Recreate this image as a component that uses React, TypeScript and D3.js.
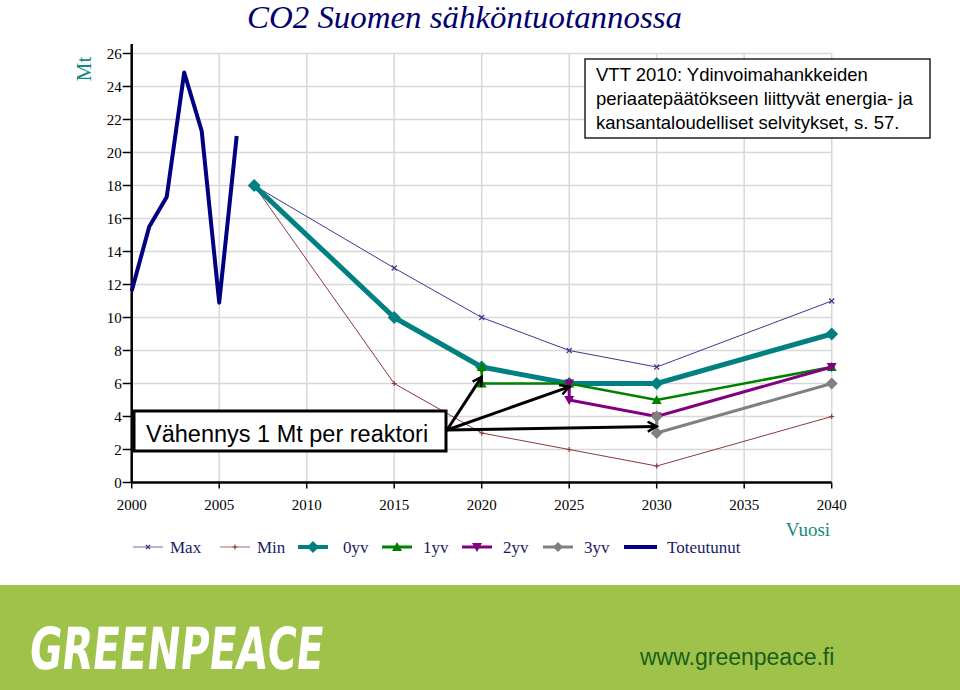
import React from "react";
import * as d3 from "d3";

const W = 960;
const H = 690;

const histYears = [2000, 2001, 2002, 2003, 2004, 2005, 2006];
const histValues = [11.6, 15.5, 17.3, 24.85, 21.3, 10.9, 21.0];

const maxYears = [2007, 2015, 2020, 2025, 2030, 2040];
const maxValues = [18, 13, 10, 8, 7, 11];
const minYears = [2007, 2015, 2020, 2025, 2030, 2040];
const minValues = [18, 6, 3, 2, 1, 4];
const yv0Years = [2007, 2015, 2020, 2025, 2030, 2040];
const yv0Values = [18, 10, 7, 6, 6, 9];
const yv1Years = [2020, 2020, 2025, 2030, 2040];
const yv1Values = [7, 6, 6, 5, 7];
const yv2Years = [2025, 2025, 2030, 2040];
const yv2Values = [6, 5, 4, 7];
const yv3Years = [2030, 2030, 2040];
const yv3Values = [4, 3, 6];

const xTicks = [2000, 2005, 2010, 2015, 2020, 2025, 2030, 2035, 2040];
const yTicks = [0, 2, 4, 6, 8, 10, 12, 14, 16, 18, 20, 22, 24, 26];

const arrowTargets = [
  [2020, 6.4],
  [2025, 5.8],
  [2030, 3.4],
];

const x = d3.scaleLinear().domain([2000, 2040]).range([131.7, 831.7]);
const y = d3.scaleLinear().domain([0, 26]).range([482.5, 53.5]);

const line = d3
  .line<[number, number]>()
  .x((d) => x(d[0]))
  .y((d) => y(d[1]));

const zip = (a: number[], b: number[]): [number, number][] => a.map((v, i) => [v, b[i]]);

function diamond(cx: number, cy: number, r: number) {
  return `M${cx},${cy - r}L${cx + r},${cy}L${cx},${cy + r}L${cx - r},${cy}Z`;
}
function triUp(cx: number, cy: number, r: number) {
  return `M${cx},${cy - r}L${cx + r},${cy + r * 0.8}L${cx - r},${cy + r * 0.8}Z`;
}
function triDown(cx: number, cy: number, r: number) {
  return `M${cx},${cy + r}L${cx + r},${cy - r * 0.8}L${cx - r},${cy - r * 0.8}Z`;
}
function cross(cx: number, cy: number, r: number) {
  return `M${cx - r},${cy - r}L${cx + r},${cy + r}M${cx - r},${cy + r}L${cx + r},${cy - r}`;
}
function plus(cx: number, cy: number, r: number) {
  return `M${cx - r},${cy}L${cx + r},${cy}M${cx},${cy - r}L${cx},${cy + r}`;
}

const C_MAX = "#3a3a8c";
const C_MIN = "#8b3a3a";
const C_0 = "#008080";
const C_1 = "#008000";
const C_2 = "#800080";
const C_3 = "#808080";
const C_T = "#000080";

export default function App() {
  const maxPts = zip(maxYears, maxValues);
  const minPts = zip(minYears, minValues);
  const p0 = zip(yv0Years, yv0Values);
  const p1 = zip(yv1Years, yv1Values);
  const p2 = zip(yv2Years, yv2Values);
  const p3 = zip(yv3Years, yv3Values);
  const hist = zip(histYears, histValues);

  const start: [number, number] = [447, 430];

  const legend = [
    { name: "Max", color: C_MAX, w: 1, m: "x", lx: 133, tx: 170 },
    { name: "Min", color: C_MIN, w: 1, m: "+", lx: 220, tx: 257 },
    { name: "0yv", color: C_0, w: 4, m: "d", lx: 298, tx: 343 },
    { name: "1yv", color: C_1, w: 3, m: "tu", lx: 382, tx: 423 },
    { name: "2yv", color: C_2, w: 3, m: "td", lx: 462, tx: 503 },
    { name: "3yv", color: C_3, w: 3, m: "d3", lx: 543, tx: 584 },
    { name: "Toteutunut", color: C_T, w: 4, m: "", lx: 624, tx: 667 },
  ];

  return (
    <svg
      width={W}
      height={H}
      style={{ position: "absolute", left: 0, top: 0, background: "#fff" }}
    >
      <defs>
        <marker id="arr" viewBox="0 0 12 12" refX="10" refY="6" markerWidth="12" markerHeight="12" markerUnits="userSpaceOnUse" orient="auto">
          <path d="M1,1L10,6L1,11" fill="none" stroke="#000" strokeWidth="2.5" />
        </marker>
      </defs>

      {/* Title */}
      <text
        x={247}
        y={28}
        fontFamily="'Liberation Serif', 'DejaVu Serif', serif"
        fontStyle="italic"
        fontSize={31}
        fill="#00006e"
        textLength={435}
        lengthAdjust="spacingAndGlyphs"
      >
        CO2 Suomen sähköntuotannossa
      </text>

      {/* Grid */}
      {yTicks.filter((t) => t > 0).map((t) => (
        <line key={"gy" + t} x1={x(2000)} x2={x(2040)} y1={y(t)} y2={y(t)} stroke="#d8d8d8" strokeWidth={1.5} />
      ))}
      {xTicks.filter((t) => t > 2000).map((t) => (
        <line key={"gx" + t} x1={x(t)} x2={x(t)} y1={y(26)} y2={y(0)} stroke="#d8d8d8" strokeWidth={1.5} />
      ))}

      {/* Axes */}
      <line x1={x(2000)} x2={x(2000)} y1={44} y2={y(0)} stroke="#000" strokeWidth={2.5} />
      <line x1={x(2000)} x2={x(2040)} y1={y(0)} y2={y(0)} stroke="#000" strokeWidth={2.5} />
      {yTicks.map((t) => (
        <g key={"ty" + t}>
          <line x1={x(2000) - 9} x2={x(2000)} y1={y(t)} y2={y(t)} stroke="#000" strokeWidth={1.5} />
          <text x={x(2000) - 10} y={y(t) + 5} textAnchor="end" fontFamily="'Liberation Serif', serif" fontSize={15} fill="#000">
            {t}
          </text>
        </g>
      ))}
      {xTicks.map((t) => (
        <g key={"tx" + t}>
          <line x1={x(t)} x2={x(t)} y1={y(0)} y2={y(0) + 6} stroke="#000" strokeWidth={1.5} />
          <text x={x(t)} y={y(0) + 27} textAnchor="middle" fontFamily="'Liberation Serif', serif" fontSize={15} fill="#000">
            {t}
          </text>
        </g>
      ))}

      <text
        transform={`translate(91,69) rotate(-90)`}
        textAnchor="middle"
        fontFamily="'Liberation Serif', serif"
        fontSize={21}
        fill="#138a80"
      >
        Mt
      </text>
      <text x={808} y={536} textAnchor="middle" fontFamily="'Liberation Serif', serif" fontSize={19} fill="#138a80">
        Vuosi
      </text>

      {/* Series */}
      <path d={line(hist) || ""} fill="none" stroke={C_T} strokeWidth={4} strokeLinejoin="round" />
      <path d={line(maxPts) || ""} fill="none" stroke={C_MAX} strokeWidth={1} />
      {maxPts.map((p, i) => (
        <path key={"mx" + i} d={cross(x(p[0]), y(p[1]), 2.5)} stroke={C_MAX} strokeWidth={1.2} />
      ))}
      <path d={line(minPts) || ""} fill="none" stroke={C_MIN} strokeWidth={1} />
      {minPts.map((p, i) => (
        <path key={"mn" + i} d={plus(x(p[0]), y(p[1]), 2.5)} stroke={C_MIN} strokeWidth={1.2} />
      ))}
      <path d={line(p0) || ""} fill="none" stroke={C_0} strokeWidth={5} strokeLinejoin="round" />
      {p0.map((p, i) => (
        <path key={"p0" + i} d={diamond(x(p[0]), y(p[1]), 6.5)} fill={C_0} />
      ))}
      <path d={line(p1) || ""} fill="none" stroke={C_1} strokeWidth={2.5} />
      {p1.map((p, i) => (
        <path key={"p1" + i} d={triUp(x(p[0]), y(p[1]), 5)} fill={C_1} />
      ))}
      <path d={line(p2) || ""} fill="none" stroke={C_2} strokeWidth={3} />
      {p2.map((p, i) => (
        <path key={"p2" + i} d={triDown(x(p[0]), y(p[1]), 5)} fill={C_2} />
      ))}
      <path d={line(p3) || ""} fill="none" stroke={C_3} strokeWidth={3} />
      {p3.map((p, i) => (
        <path key={"p3" + i} d={diamond(x(p[0]), y(p[1]), 6)} fill={C_3} />
      ))}

      {/* Annotation box */}
      <rect x={134} y={411} width={312} height={40} fill="#fff" stroke="#000" strokeWidth={3} />
      <text x={146} y={442} fontFamily="'Liberation Sans', Arial, sans-serif" fontSize={23.5} fill="#000">
        Vähennys 1 Mt per reaktori
      </text>
      {arrowTargets.map((t, i) => (
        <line
          key={"ar" + i}
          x1={start[0]}
          y1={start[1]}
          x2={x(t[0])}
          y2={y(t[1])}
          stroke="#000"
          strokeWidth={3}
          markerEnd="url(#arr)"
        />
      ))}

      {/* VTT box */}
      <rect x={585} y={59} width={345} height={79} fill="#fff" stroke="#000" strokeWidth={1.3} />
      {[
        "VTT 2010: Ydinvoimahankkeiden",
        "periaatepäätökseen liittyvät energia- ja",
        "kansantaloudelliset selvitykset, s. 57.",
      ].map((s, i) => (
        <text key={"v" + i} x={596} y={81 + i * 24} fontFamily="'Liberation Sans', Arial, sans-serif" fontSize={18.5} fill="#000">
          {s}
        </text>
      ))}

      {/* Legend */}
      {legend.map((l) => {
        const cx = l.lx + 15;
        const cy = 547;
        let mk: React.ReactNode = null;
        if (l.m === "x") mk = <path d={cross(cx, cy, 2)} stroke={l.color} strokeWidth={1.2} />;
        if (l.m === "+") mk = <path d={plus(cx, cy, 2.5)} stroke={l.color} strokeWidth={1.2} />;
        if (l.m === "d") mk = <path d={diamond(cx, cy, 6)} fill={l.color} />;
        if (l.m === "d3") mk = <path d={diamond(cx, cy, 5)} fill={l.color} />;
        if (l.m === "tu") mk = <path d={triUp(cx, cy, 5)} fill={l.color} />;
        if (l.m === "td") mk = <path d={triDown(cx, cy, 5)} fill={l.color} />;
        return (
          <g key={l.name}>
            <line x1={l.lx} x2={l.lx + (l.m === "" ? 33 : 30)} y1={cy} y2={cy} stroke={l.color} strokeWidth={l.w} opacity={l.w === 1 ? 0.75 : 1} />
            {mk}
            <text x={l.tx} y={cy + 6} fontFamily="'Liberation Serif', serif" fontSize={17} fill="#1a1a66">
              {l.name}
            </text>
          </g>
        );
      })}

      {/* Banner */}
      <rect x={0} y={585} width={W} height={105} fill="#9fc24a" />
      <text
        x={28}
        y={669}
        fontFamily="'DejaVu Sans', sans-serif"
        fontWeight={900}
        fontSize={58}
        fill="#fff"
        textLength={294}
        lengthAdjust="spacingAndGlyphs"
        transform="skewX(-6) translate(70,0)"
      >
        GREENPEACE
      </text>
      <text x={640} y={665} fontFamily="'Liberation Sans', Arial, sans-serif" fontSize={23} fill="#1a5e1a">
        www.greenpeace.fi
      </text>
    </svg>
  );
}
